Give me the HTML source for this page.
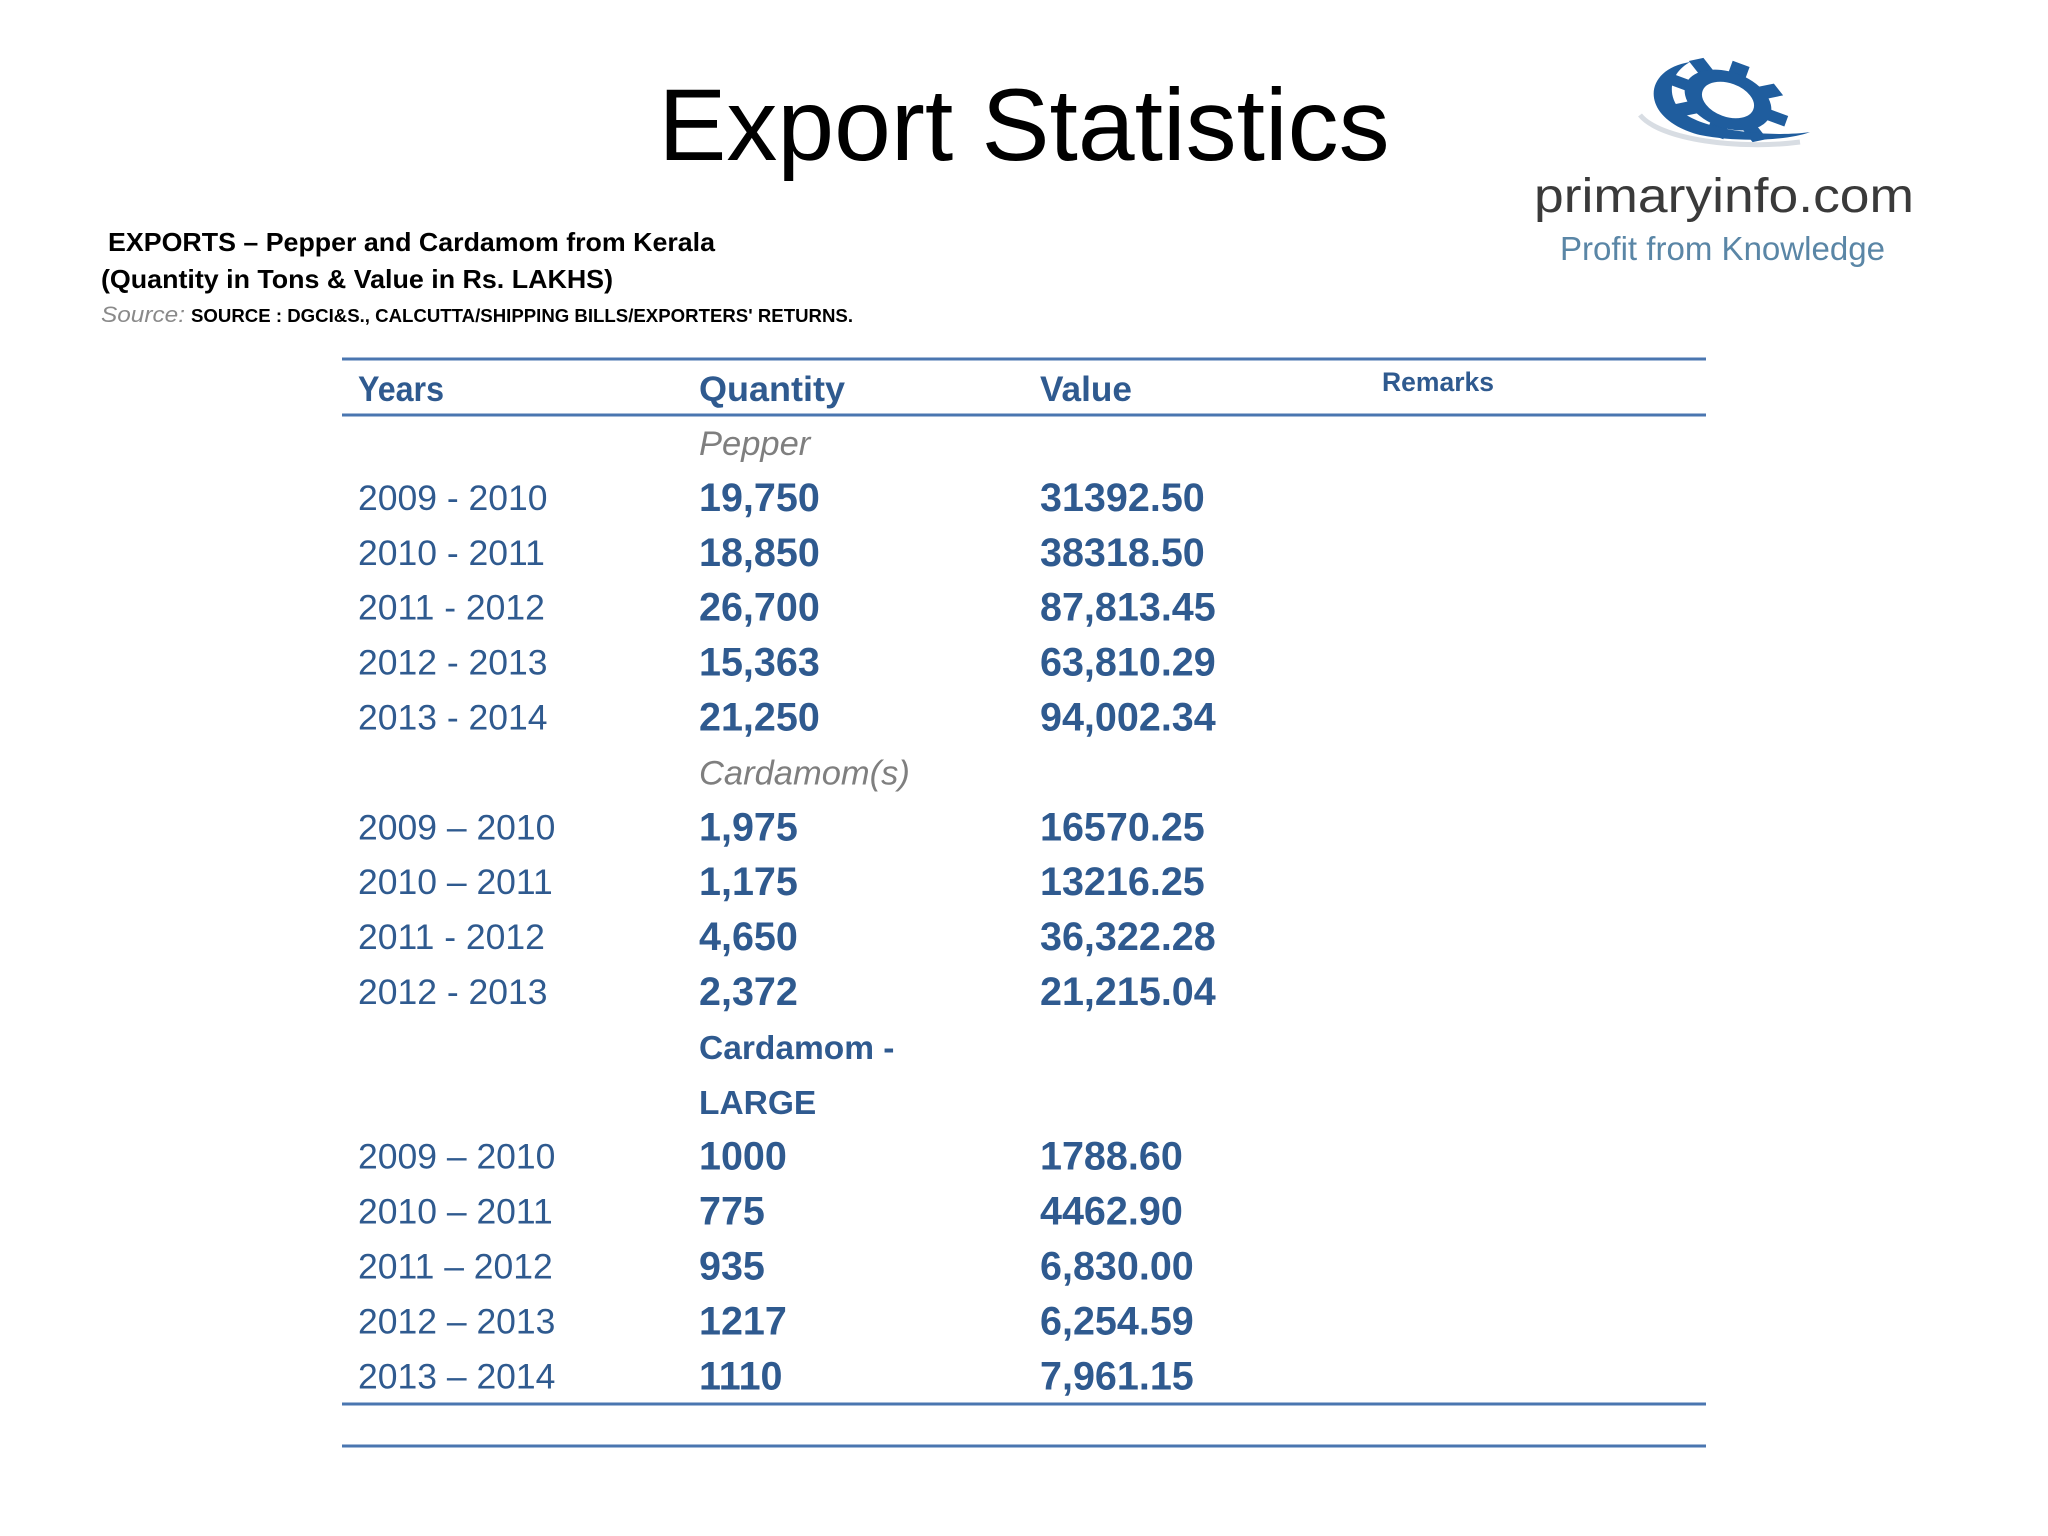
<!DOCTYPE html>
<html><head><meta charset="utf-8"><style>
html,body{margin:0;padding:0;background:#fff}
svg{display:block}
text{font-family:"Liberation Sans",sans-serif}
</style></head><body>
<svg width="2048" height="1536" viewBox="0 0 2048 1536">
<text x="1024" y="160" text-anchor="middle" font-size="102" fill="#000">Export Statistics</text>

<g>
 <g transform="translate(1728,100) rotate(20) scale(1,0.62)">
  <g fill="#1f5d9e">
   <rect x="-9" y="-62" width="18" height="22"/><rect x="-9" y="40" width="18" height="22"/>
   <rect x="-62" y="-9" width="22" height="18"/><rect x="40" y="-9" width="22" height="18"/>
   <rect x="-9" y="-62" width="18" height="22" transform="rotate(45)"/><rect x="-9" y="40" width="18" height="22" transform="rotate(45)"/>
   <rect x="-62" y="-9" width="22" height="18" transform="rotate(45)"/><rect x="40" y="-9" width="22" height="18" transform="rotate(45)"/>
  </g>
  <circle r="36" fill="none" stroke="#1f5d9e" stroke-width="18"/>
 </g>
 <path d="M1690 62 C1640 70 1640 120 1700 135 C1740 143 1790 140 1810 132 C1770 138 1700 130 1680 110 C1665 92 1672 72 1690 62 Z" fill="#1f5d9e"/>
 <path d="M1640 115 C1660 140 1740 150 1800 142" fill="none" stroke="#d8dde3" stroke-width="5"/>
 <text x="1534" y="212" textLength="380" lengthAdjust="spacingAndGlyphs" font-size="48" fill="#3a3a3a">primaryinfo.com</text>
 <text x="1560" y="260" textLength="325" lengthAdjust="spacingAndGlyphs" font-size="33" fill="#5a86a6">Profit from Knowledge</text>
</g>

<text x="108" y="251" textLength="607" lengthAdjust="spacingAndGlyphs" font-size="26" font-weight="bold" fill="#000">EXPORTS – Pepper and Cardamom from Kerala</text>
<text x="101" y="288" textLength="512" lengthAdjust="spacingAndGlyphs" font-size="26" font-weight="bold" fill="#000">(Quantity in Tons &amp; Value in Rs. LAKHS)</text>
<text x="101" y="322" textLength="84" lengthAdjust="spacingAndGlyphs" font-size="22" font-style="italic" fill="#8a8a8a">Source:</text>
<text x="191" y="322" textLength="662" lengthAdjust="spacingAndGlyphs" font-size="18" font-weight="bold" fill="#000">SOURCE : DGCI&amp;S., CALCUTTA/SHIPPING BILLS/EXPORTERS' RETURNS.</text>

<g stroke="#4a76b0" stroke-width="3">
 <line x1="342" y1="359" x2="1706" y2="359"/>
 <line x1="342" y1="415" x2="1706" y2="415"/>
 <line x1="342" y1="1404" x2="1706" y2="1404"/>
 <line x1="342" y1="1446" x2="1706" y2="1446"/>
</g>

<g fill="#2f5a8f" font-weight="bold">
 <text x="358" y="401" textLength="86" lengthAdjust="spacingAndGlyphs" font-size="35">Years</text>
 <text x="699" y="401" textLength="146" lengthAdjust="spacingAndGlyphs" font-size="35">Quantity</text>
 <text x="1040" y="401" textLength="92" lengthAdjust="spacingAndGlyphs" font-size="35">Value</text>
 <text x="1382" y="391" textLength="112" lengthAdjust="spacingAndGlyphs" font-size="27">Remarks</text>
</g>
<g id="rows"></g>
</svg>
<script>
const rowKinds=['cat','d','d','d','d','d','cat','d','d','d','d','catb','catb','d','d','d','d','d'];
const years=['Pepper','2009 - 2010','2010 - 2011','2011 - 2012','2012 - 2013','2013 - 2014','Cardamom(s)','2009 – 2010','2010 – 2011','2011 - 2012','2012 - 2013','Cardamom -','LARGE','2009 – 2010','2010 – 2011','2011 – 2012','2012 – 2013','2013 – 2014'];
const quantities=['','19,750','18,850','26,700','15,363','21,250','','1,975','1,175','4,650','2,372','','','1000','775','935','1217','1110'];
const values=['','31392.50','38318.50','87,813.45','63,810.29','94,002.34','','16570.25','13216.25','36,322.28','21,215.04','','','1788.60','4462.90','6,830.00','6,254.59','7,961.15'];
const g=document.getElementById('rows');
const NS='http://www.w3.org/2000/svg';
function mk(x,y,str,size,fill,weight,style){
 const t=document.createElementNS(NS,'text');
 t.setAttribute('x',x);t.setAttribute('y',y);t.setAttribute('font-size',size);
 t.setAttribute('fill',fill);
 if(weight)t.setAttribute('font-weight',weight);
 if(style)t.setAttribute('font-style',style);
 t.textContent=str;g.appendChild(t);return t;
}
rowKinds.forEach((k,i)=>{
 const cy=444+i*54.9;const base=cy+11;
 if(k==='cat'){
  const t=mk(699,base,years[i],34.5,'#7f7f7f',null,'italic');
  
  
 }else if(k==='catb'){
  const t=mk(699,base,years[i],33.5,'#2f5a8f','bold');
  
  
 }else{
  const y=mk(358,base,years[i],35.5,'#2f5a8f');
  
  
  const q=mk(699,base+1,quantities[i],39.5,'#2f5a8f','bold');
  
  
  const v=mk(1040,base+1,values[i],39.5,'#2f5a8f','bold');
  
  
 }
});
</script>
</body></html>
